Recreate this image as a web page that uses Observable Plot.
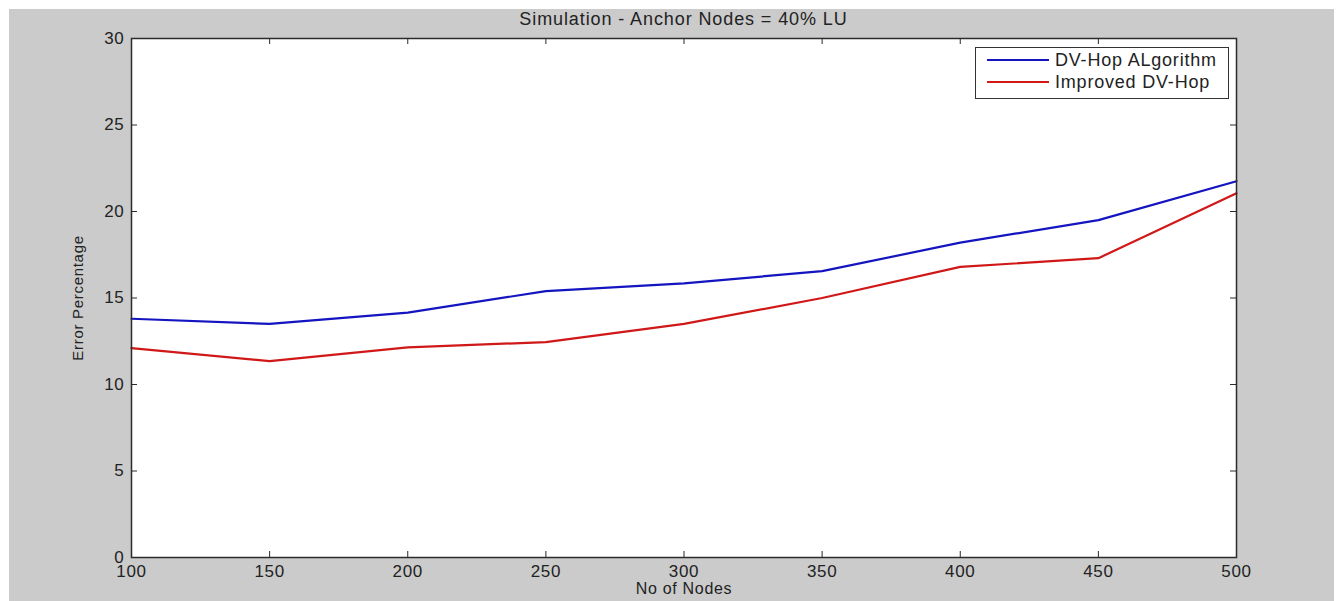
<!DOCTYPE html>
<html>
<head>
<meta charset="utf-8">
<script src="https://cdn.jsdelivr.net/npm/d3@7"></script>
<script src="https://cdn.jsdelivr.net/npm/@observablehq/plot@0.6"></script>
<style>
  body { margin: 0; background: #ffffff; font-family: "Liberation Sans", Arial, sans-serif; }
  #wrap { position: relative; width: 1338px; height: 601px; overflow: hidden; }
  #gray { position: absolute; left: 9px; top: 9px; width: 1325px; height: 592px; background: #cbcbcb; }
  #chart { position: absolute; left: 0; top: 0; }
  #chart svg text { letter-spacing: 0.7px; }
  #title { position: absolute; left: 0; width: 1367px; top: 9px; text-align: center; font-size: 18px; letter-spacing: 0.9px; color: #222; }
  #legend { position: absolute; left: 975px; top: 47px; width: 252px; height: 50px; background: #fff; border: 1px solid #333; }
  .item { position: absolute; left: 11px; height: 22px; display: flex; align-items: center; font-size: 18px; letter-spacing: 0.8px; color: #222; }
  .item svg { margin-right: 6px; }
</style>
</head>
<body>
<div id="wrap">
  <div id="gray"></div>
  <div id="chart"></div>
  <div id="title">Simulation - Anchor Nodes = 40% LU</div>
  <div id="legend"></div>
</div>
<script>
const nodes = [100, 150, 200, 250, 300, 350, 400, 450, 500];
const dvHop = [13.8, 13.5, 14.15, 15.4, 15.85, 16.55, 18.2, 19.5, 21.75];
const improved = [12.1, 11.35, 12.15, 12.45, 13.5, 15.0, 16.8, 17.3, 21.05];
const seriesNames = ["DV-Hop ALgorithm", "Improved DV-Hop"];
const seriesColors = ["#1414c0", "#d01818"];
const xTicks = [100, 150, 200, 250, 300, 350, 400, 450, 500];
const yTicks = [0, 5, 10, 15, 20, 25, 30];
const xLabel = "No of Nodes";
const yLabel = "Error Percentage";

const rows = [];
nodes.forEach((n, i) => {
  rows.push({nodes: n, value: dvHop[i], series: seriesNames[0]});
  rows.push({nodes: n, value: improved[i], series: seriesNames[1]});
});

const W = 1338, H = 601;
const mL = 131, mR = 102, mT = 38, mB = 44;
const innerW = W - mL - mR, innerH = H - mT - mB;
const tk = 6;
const axisColor = "#2b2b2b";

const chart = Plot.plot({
  width: W,
  height: H,
  marginLeft: mL,
  marginRight: mR,
  marginTop: mT,
  marginBottom: mB,
  style: {background: "transparent", fontFamily: "'Liberation Sans', Arial, sans-serif", color: "#222"},
  x: {domain: [100, 500], ticks: xTicks},
  y: {domain: [0, 30], ticks: yTicks},
  color: {domain: seriesNames, range: seriesColors},
  marks: [
    Plot.frame({fill: "white", stroke: null}),
    Plot.line(rows, {x: "nodes", y: "value", stroke: "series", strokeWidth: 2.2}),
    // inward ticks (bottom/top/left/right)
    Plot.tickX(xTicks, {x: d => d, stroke: axisColor, insetTop: innerH - tk}),
    Plot.tickX(xTicks, {x: d => d, stroke: axisColor, insetBottom: innerH - tk}),
    Plot.tickY(yTicks, {y: d => d, stroke: axisColor, insetLeft: innerW - tk}),
    Plot.tickY(yTicks, {y: d => d, stroke: axisColor, insetRight: innerW - tk}),
    Plot.axisX({ticks: xTicks, tickSize: 0, tickPadding: 7, fontSize: 17, label: null}),
    Plot.axisY({ticks: yTicks, tickSize: 0, tickPadding: 7, fontSize: 17, label: null}),
    Plot.text([xLabel], {text: d => d, frameAnchor: "bottom", dy: 36, fontSize: 16, fill: "#222"}),
    Plot.text([yLabel], {text: d => d, frameAnchor: "left", textAnchor: "middle", rotate: -90, dx: -53, fontSize: 15, fill: "#222"}),
    Plot.frame({stroke: axisColor, strokeWidth: 1.5})
  ]
});
document.getElementById("chart").appendChild(chart);

const legend = document.getElementById("legend");
seriesNames.forEach((name, i) => {
  const item = document.createElement("div");
  item.className = "item";
  item.style.top = (i === 0 ? 1 : 23) + "px";
  item.innerHTML = `<svg width="62" height="4"><line x1="0" x2="62" y1="2" y2="2" stroke="${seriesColors[i]}" stroke-width="2"/></svg><span>${name}</span>`;
  legend.appendChild(item);
});
</script>
</body>
</html>
